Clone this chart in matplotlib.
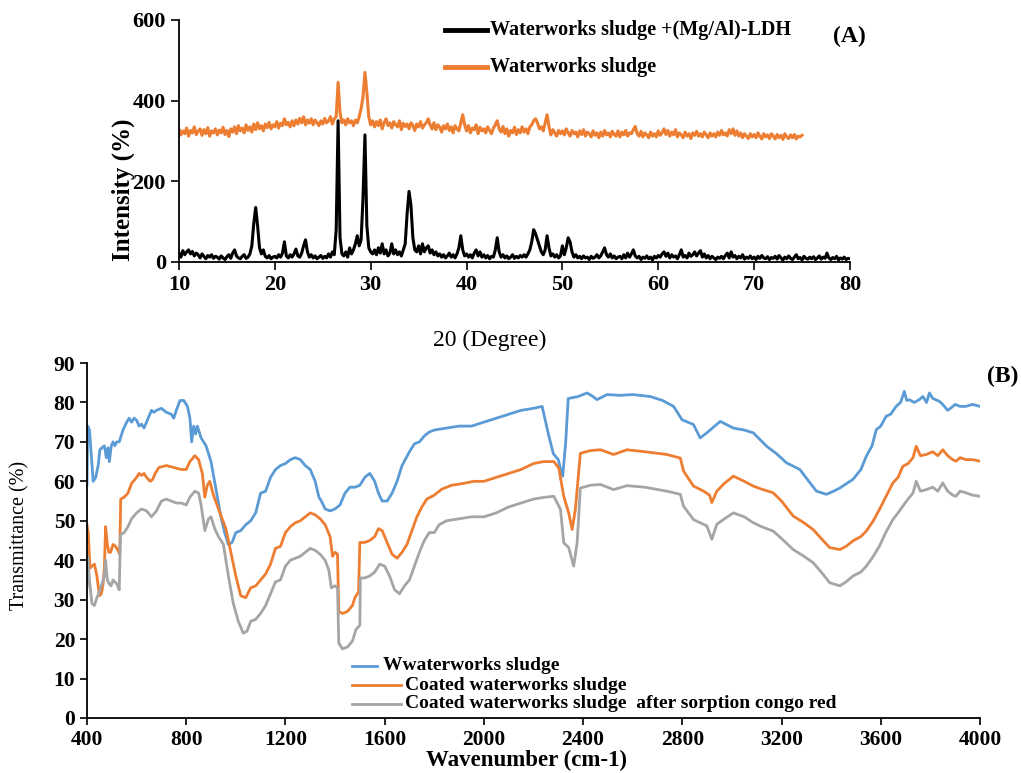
import numpy as np
import matplotlib
matplotlib.use("Agg")
import matplotlib.pyplot as plt
from matplotlib.lines import Line2D

plt.rcParams['font.family'] = ['Liberation Serif', 'DejaVu Serif']

# ---------------- (A) XRD data, 0.2 degree step scan ----------------
int_ldh = [
    22, 12, 28, 18, 25, 30, 20, 26, 15, 22,
    18, 10, 20, 14, 8, 16, 12, 18, 9, 14,
    12, 7, 15, 10, 6, 13, 18, 9, 22, 30,
    15, 10, 8, 14, 18, 9, 12, 20, 40, 95,
    135, 90, 35, 20, 30, 14, 10, 16, 8, 12,
    14, 10, 18, 12, 22, 50, 15, 10, 18, 12,
    20, 32, 15, 12, 22, 40, 55, 25, 12, 18,
    10, 15, 8, 12, 16, 9, 14, 10, 20, 12,
    25, 18, 80, 350, 60, 20, 15, 25, 12, 35,
    20, 30, 45, 65, 40, 55, 160, 315, 90, 35,
    25, 20, 30, 18, 35, 22, 45, 20, 30, 15,
    22, 45, 20, 30, 18, 25, 15, 30, 45, 120,
    175, 140, 60, 30, 25, 40, 20, 45, 25, 35,
    40, 22, 30, 18, 25, 15, 20, 12, 18, 10,
    15, 22, 12, 18, 10, 20, 35, 65, 30, 15,
    20, 12, 18, 10, 22, 30, 15, 25, 12, 18,
    10, 16, 8, 14, 12, 30, 60, 25, 12, 18,
    10, 15, 8, 12, 18, 9, 14, 10, 16, 12,
    18, 12, 20, 30, 50, 80, 70, 55, 40, 25,
    18, 30, 65, 35, 15, 20, 12, 18, 10, 15,
    40, 18, 35, 60, 50, 25, 12, 18, 10, 14,
    8, 15, 10, 12, 6, 14, 9, 12, 18, 10,
    15, 25, 35, 18, 12, 20, 10, 15, 8, 12,
    14, 8, 18, 10, 22, 12, 20, 30, 15, 10,
    14, 6, 12, 9, 15, 8, 12, 5, 14, 10,
    16, 12, 20, 25, 14, 22, 10, 18, 12, 15,
    8, 18, 30, 12, 16, 10, 22, 14, 18, 25,
    15, 22, 28, 12, 20, 10, 16, 8, 14, 10,
    6, 12, 9, 14, 8, 16, 22, 10, 25, 12,
    16, 8, 14, 10, 18, 7, 12, 9, 15, 8,
    12, 6, 14, 9, 16, 10, 8, 13, 6, 11,
    9, 14, 7, 16, 10, 5, 12, 8, 15, 9,
    6, 12, 18, 8, 11, 5, 14, 9, 7, 12,
    8, 13, 6, 10, 15, 7, 12, 9, 22, 10,
    6, 11, 8, 14, 5, 10, 7, 12, 6, 9,
    8,
]

int_sludge = [
    330, 315, 325, 318, 332, 312, 326, 320, 335, 316,
    324, 330, 314, 328, 318, 333, 312, 325, 320, 330,
    315, 327, 320, 334, 316, 326, 311, 330, 322, 335,
    318, 338, 325, 332, 320, 340, 326, 335, 322, 342,
    328, 345, 330, 338, 325, 342, 333, 346, 330, 340,
    335, 348, 332, 344, 338, 355, 340, 346, 335, 350,
    338, 352, 342, 356, 345, 360, 340, 352, 344, 355,
    340, 352, 345, 338, 350, 342, 356, 345, 350, 360,
    342, 355, 360, 445, 370, 345, 352, 340, 355, 345,
    350, 338, 352, 345, 360, 380, 410, 470, 420, 360,
    340, 350, 335, 348, 338, 352, 330, 345, 355, 338,
    345, 332, 348, 340, 335, 350, 328, 344, 336, 342,
    330, 345, 338, 326, 342, 335, 348, 332, 340, 345,
    355, 340, 330, 345, 328, 340, 335, 322, 338, 330,
    342, 326, 335, 320, 338, 330, 325, 345, 365, 340,
    325, 338, 320, 332, 328, 340, 318, 334, 325, 330,
    320, 335, 326, 318, 332, 340, 350, 330, 322, 336,
    318, 330, 312, 326, 320, 334, 316, 328, 320, 335,
    322, 330, 318, 335, 340, 350, 355, 345, 330, 335,
    325, 345, 365, 335, 315, 328, 320, 312, 326, 318,
    325, 315, 330, 320, 312, 326, 318, 322, 310, 325,
    316, 328, 312, 322, 318, 310, 325, 314, 320, 308,
    322, 312, 326, 315, 320, 310, 324, 316, 312, 325,
    310, 322, 315, 326, 312, 320, 318, 328, 336, 318,
    312, 324, 310, 320, 315, 308, 322, 312, 318, 310,
    325, 314, 320, 330, 316, 326, 312, 322, 315, 328,
    310, 320, 315, 308, 322, 312, 318, 306, 320, 314,
    324, 312, 318, 310, 322, 315, 308, 320, 312, 318,
    310, 322, 314, 326, 315, 320, 312, 328, 318, 330,
    314, 325, 312, 320, 308, 318, 312, 306, 318, 310,
    316, 308, 320, 312, 305, 318, 310, 315, 306, 318,
    312, 305, 316, 308, 314, 304, 318, 310, 306, 315,
    308, 316, 305, 312, 310, 314,
]

two_theta_ldh = 10 + 0.2 * np.arange(len(int_ldh))
two_theta_sludge = 10 + 0.2 * np.arange(len(int_sludge))

xrd_labels = ["Waterworks sludge +(Mg/Al)-LDH", "Waterworks sludge"]

# ---------------- (B) FTIR data ----------------
wn_raw = [400, 403, 410, 418, 425, 435, 445, 452, 460, 470, 478, 485, 490, 498, 505,
          512, 520, 530, 545, 560, 570, 580, 590, 600, 610, 620, 630, 640, 660, 670,
          680, 700, 720, 740, 750, 760, 775, 790, 805, 815, 822, 830, 838, 845, 860,
          880, 900, 920, 940, 955, 970, 985, 1000, 1020, 1040, 1060, 1080, 1100, 1120,
          1140, 1160, 1180, 1200, 1220, 1240, 1260, 1280, 1300, 1320, 1335, 1345, 1360,
          1380, 1400, 1420, 1440, 1460, 1480, 1500, 1520, 1540, 1560, 1575, 1590, 1610,
          1630, 1650, 1670, 1700, 1720, 1740, 1760, 1780, 1800, 1850, 1900, 1950, 2000,
          2050, 2100, 2150, 2200, 2235, 2260, 2280, 2300, 2310, 2318, 2330, 2340, 2380,
          2416, 2440, 2456, 2497, 2550, 2600, 2671, 2720, 2765, 2799, 2845, 2872, 2899,
          2953, 3006, 3050, 3086, 3140, 3180, 3220, 3274, 3310, 3341, 3381, 3410, 3435,
          3488, 3520, 3542, 3565, 3582, 3600, 3622, 3640, 3662, 3680, 3695, 3705, 3715,
          3735, 3755, 3770, 3785, 3796, 3810, 3836, 3850, 3870, 3883, 3900, 3920, 3943,
          3970, 4000]
t_raw = [59, 74, 73, 66, 60, 61, 64, 68, 68.5, 69, 66, 68.5, 65, 69, 70,
         69, 70, 70, 73, 75, 76, 75, 76, 75.5, 74, 74.5, 73.5, 75, 78, 77.5,
         78, 78.5, 77.5, 77, 76, 78, 80.5, 80.5, 79, 76, 70, 74, 72, 74, 71,
         69, 65, 58, 51, 47, 44, 44.5, 47, 47.5, 49, 50, 52, 57, 57.5,
         61, 63, 64, 64.5, 65.5, 66, 65.5, 64, 63, 60, 56, 55, 53,
         52.5, 53, 54, 57, 58.5, 58.5, 59, 61, 62, 60, 57, 55, 55,
         57, 60, 64, 67.5, 69.5, 70, 71.5, 72.5, 73, 73.5, 74, 74, 75,
         76, 77, 78, 78.5, 79, 72, 67, 65.5, 63, 61.3, 70, 81, 81.5,
         82.4, 81.5, 80.7, 82, 81.8, 82, 81.5, 80.5, 79, 75.6, 74.4, 71, 72.3,
         75.2, 73.5, 73, 72.3, 68.9, 67, 64.7, 63, 60, 57.5, 56.7, 57.5, 58.3,
         60.5, 63, 66.4, 69, 73.1, 74, 76.5, 77, 79, 80, 82.8, 80.5, 80.7,
         80, 80.7, 81.5, 80, 82.4, 81, 80.3, 79.5, 78, 78.6, 79.5, 79, 79,
         79.5, 79]

wn_coated = [400, 405, 412, 420, 430, 440, 450, 458, 465, 470, 475, 482, 488, 495, 505,
             515, 525, 532, 536, 550, 565, 580, 600, 610, 620, 630, 640, 655, 665, 675,
             690, 720, 750, 780, 800, 815, 835, 850, 865, 875, 885, 895, 910, 930, 960,
             980, 1000, 1020, 1040, 1060, 1080, 1100, 1120, 1140, 1160, 1180, 1200, 1220,
             1240, 1260, 1280, 1300, 1320, 1340, 1360, 1380, 1390, 1400, 1410, 1415, 1430,
             1450, 1470, 1480, 1495, 1500, 1520, 1540, 1560, 1575, 1590, 1610, 1630, 1650,
             1670, 1690, 1710, 1730, 1750, 1770, 1800, 1830, 1870, 1920, 1960, 2000, 2050,
             2100, 2150, 2200, 2240, 2282, 2302, 2322, 2342, 2356, 2369, 2389, 2430, 2470,
             2523, 2577, 2650, 2738, 2792, 2805, 2845, 2886, 2910, 2919, 2939, 2970, 3006,
             3050, 3086, 3120, 3166, 3200, 3247, 3290, 3327, 3360, 3394, 3435, 3460, 3488,
             3520, 3542, 3570, 3595, 3620, 3649, 3670, 3689, 3710, 3730, 3743, 3760, 3783,
             3810, 3830, 3850, 3870, 3890, 3903, 3920, 3943, 3970, 4000]
t_coated = [49, 47, 38, 38.5, 39, 36, 31, 31.5, 34, 38, 48.5, 44, 42, 42, 44,
            43.5, 42.5, 41.5, 55.5, 56, 57, 59.5, 61, 62, 61.5, 62, 61, 60, 60.5, 62,
            63.5, 64, 63.5, 63, 63, 65, 66.5, 65.5, 62, 56, 59, 60, 56.5, 53, 48,
            42, 36, 31, 30.5, 33, 33.5, 35, 36.5, 39, 43, 43.5, 47, 48.5,
            49.5, 50, 51, 52, 51.5, 50.5, 49, 46, 41, 42, 41.5, 27, 26.5,
            27, 28.5, 30.5, 32, 44.5, 44.5, 45, 46, 48, 47.5, 44.5, 41.5, 40.5,
            42, 44, 47.5, 51, 53.5, 55.5, 56.5, 58, 59, 59.5, 60, 60, 61,
            62, 63, 64.5, 65, 65, 63.4, 56.2, 52, 47.8, 52.9, 67.1, 67.8, 68,
            66.8, 68, 67.5, 66.8, 65.9, 62.6, 58.8, 57.5, 56.5, 54.6, 57.5, 59.5, 61.3,
            60, 58.8, 58, 57.1, 55, 51.2, 49.5, 47.8, 45.5, 43.2, 42.7, 43.5, 44.9,
            46, 47.4, 50, 52.9, 56, 59.6, 61, 63.8, 64.5, 66, 68.9, 66.5, 66.8,
            67.5, 66.5, 68, 66.5, 65.5, 65.1, 66, 65.5, 65.5, 65.1]

wn_congo = [400, 403, 410, 420, 430, 440, 450, 460, 470, 475, 482, 490, 497, 505, 520,
            530, 535, 550, 565, 580, 600, 620, 640, 660, 680, 700, 720, 740, 760, 780,
            800, 815, 835, 850, 860, 875, 890, 900, 915, 930, 950, 970, 990, 1010, 1030,
            1045, 1060, 1080, 1100, 1120, 1140, 1160, 1180, 1200, 1220, 1240, 1260, 1280,
            1300, 1320, 1340, 1360, 1375, 1385, 1400, 1410, 1415, 1430, 1450, 1470, 1485,
            1500, 1502, 1520, 1540, 1560, 1580, 1600, 1620, 1640, 1660, 1680, 1700, 1720,
            1740, 1760, 1780, 1800, 1820, 1850, 1900, 1950, 2000, 2050, 2100, 2150, 2200,
            2250, 2282, 2309, 2322, 2342, 2362, 2376, 2389, 2430, 2470, 2523, 2577, 2650,
            2738, 2792, 2805, 2845, 2899, 2919, 2939, 2970, 3006, 3050, 3086, 3120, 3166,
            3200, 3247, 3290, 3327, 3360, 3394, 3435, 3460, 3488, 3520, 3542, 3570, 3595,
            3620, 3649, 3670, 3689, 3710, 3730, 3743, 3760, 3783, 3810, 3830, 3850, 3870,
            3890, 3903, 3920, 3943, 3970, 4000]
t_congo = [33, 41, 35, 29, 28.5, 30.5, 32, 34, 36, 40, 35, 34, 33.5, 35, 34,
           32.5, 46.5, 47, 48.5, 50.5, 52, 53, 52.5, 51, 52.5, 55, 55.5, 55, 54.5, 54.5,
           54, 56, 57.5, 57, 54, 47.5, 50.5, 51, 48, 46, 44, 36, 29, 24.5, 21.5,
           22, 24.5, 25, 26.5, 28.5, 31.5, 34.5, 35, 38.5, 40, 40.5, 41, 42,
           43, 42.5, 41.5, 40, 37.5, 33, 33.5, 33, 19, 17.5, 18, 19.5, 22.5,
           23.5, 35.5, 35.5, 36, 37, 39, 38.5, 36, 32.5, 31.5, 33.5, 35, 38.5,
           42, 45, 47, 47, 49, 50, 50.5, 51, 51, 52, 53.5, 54.5, 55.5,
           56, 56.2, 52.9, 44.4, 43.2, 38.5, 44.4, 58.3, 59, 59.2, 57.9, 58.9, 58.5,
           57.5, 56.7, 53.7, 50.3, 48.7, 45.3, 49.1, 50.5, 52, 51, 49.5, 48.5, 47.4,
           45.5, 42.7, 41, 39.4, 37, 34.3, 33.5, 34.5, 36, 37, 38.5, 41, 43.6,
           47, 50.3, 52, 53.7, 55.5, 57, 60, 57.5, 57.9, 58.5, 57.5, 59.6, 57.5,
           56.5, 56.2, 57.5, 57.1, 56.5, 56.2]

ftir_labels = ["Wwaterworks sludge", "Coated waterworks sludge",
               "Coated waterworks sludge  after sorption congo red"]

c_blue = "#5B9BD5"
c_orange = "#ED7D31"
c_gray = "#A5A5A5"

fig = plt.figure(figsize=(10.21, 7.73), dpi=100)

# ---------------- panel A ----------------
axA = fig.add_axes([0.1753, 0.6611, 0.6572, 0.3131])
axA.plot(two_theta_sludge, int_sludge, color=c_orange, lw=2.2)
axA.plot(two_theta_ldh, int_ldh, color="black", lw=2.2)
axA.set_xlim(10, 80)
axA.set_ylim(0, 600)
axA.set_xticks(range(10, 81, 10))
axA.set_yticks(range(0, 601, 200))
for s in ["top", "right"]:
    axA.spines[s].set_visible(False)
for s in ["left", "bottom"]:
    axA.spines[s].set_linewidth(1.3)
axA.tick_params(labelsize=16, width=1.2, length=6, direction="out")
for lab in axA.get_xticklabels() + axA.get_yticklabels():
    lab.set_fontweight("bold")

fig.text(0.121, 0.755, "Intensity (%)", rotation=90, ha="center", va="center",
         fontsize=18, fontweight="bold")
fig.text(0.48, 0.56, "20 (Degree)", ha="center", va="center", fontsize=17)

# legend A
fig.add_artist(Line2D([445 / 1021, 487 / 1021], [1 - 30 / 773, 1 - 30 / 773],
                      color="black", lw=3.5))
fig.add_artist(Line2D([445 / 1021, 487 / 1021], [1 - 67 / 773, 1 - 67 / 773],
                      color=c_orange, lw=3.5))
fig.text(490 / 1021, 1 - 30 / 773, xrd_labels[0], ha="left", va="center",
         fontsize=14.5, fontweight="bold")
fig.text(490 / 1021, 1 - 67 / 773, xrd_labels[1], ha="left", va="center",
         fontsize=14.5, fontweight="bold")
fig.text(866 / 1021, 1 - 36 / 773, "(A)", ha="right", va="center",
         fontsize=17, fontweight="bold")

# ---------------- panel B ----------------
axB = fig.add_axes([0.0852, 0.0712, 0.8746, 0.4592])
axB.plot(wn_raw, t_raw, color=c_blue, lw=2)
axB.plot(wn_coated, t_coated, color=c_orange, lw=2)
axB.plot(wn_congo, t_congo, color=c_gray, lw=2)
axB.set_xlim(400, 4000)
axB.set_ylim(0, 90)
axB.set_xticks(range(400, 4001, 400))
axB.set_yticks(range(0, 91, 10))
for s in ["top", "right"]:
    axB.spines[s].set_visible(False)
for s in ["left", "bottom"]:
    axB.spines[s].set_linewidth(1.3)
axB.tick_params(labelsize=15.5, width=1.2, length=5, direction="out")
for lab in axB.get_xticklabels() + axB.get_yticklabels():
    lab.set_fontweight("bold")

fig.text(527 / 1021, 1 - 760 / 773, "Wavenumber (cm-1)", ha="center", va="center",
         fontsize=16.5, fontweight="bold")
fig.text(20 / 1021, 1 - 535 / 773, "Transmittance (%)", rotation=90, ha="center",
         va="center", fontsize=14.5)
fig.text(1018 / 1021, 1 - 376 / 773, "(B)", ha="right", va="center",
         fontsize=17, fontweight="bold")

# legend B
leg_rows = [(666, 352, 377, 383, c_blue), (685, 352, 401, 405, c_orange),
            (704, 352, 401, 405, c_gray)]
for (yy, x0, x1, xt, col), lab in zip(leg_rows, ftir_labels):
    fig.add_artist(Line2D([x0 / 1021, x1 / 1021], [1 - yy / 773, 1 - yy / 773],
                          color=col, lw=2))
    fig.text(xt / 1021, 1 - yy / 773, lab, ha="left", va="center",
             fontsize=14, fontweight="bold")

fig.savefig("out.png", dpi=100)
